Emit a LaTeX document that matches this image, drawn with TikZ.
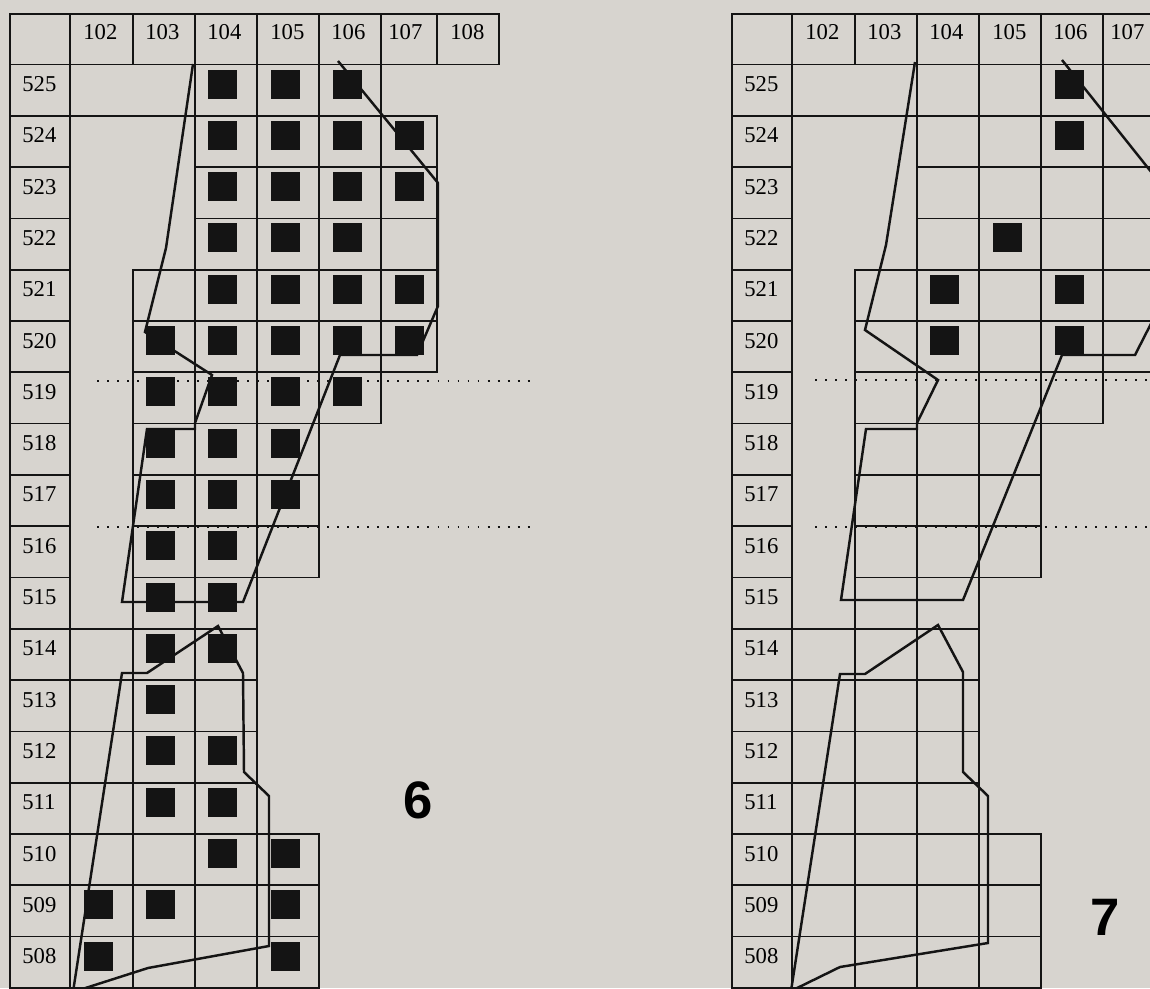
\documentclass[tikz,border=0pt]{standalone}
\usepackage{fontspec}
\setmainfont{Liberation Serif}
\newfontfamily\platefont{Liberation Sans}
\usepackage{tikz}
\definecolor{paper}{HTML}{D7D4CF}
\definecolor{ink}{HTML}{141414}
\tikzset{
  cellbox/.style={draw=ink,line width=1pt},
  blk/.style={fill=ink},
  trace/.style={draw=ink,line width=1.4pt,line join=miter},
  dotln/.style={draw=ink,line width=1.1pt,dash pattern=on 1.1pt off 4.6pt},
  lbl/.style={anchor=base west,inner sep=0pt,font=\fontsize{12.9}{14}\selectfont},
  plate/.style={inner sep=0pt,font=\platefont\bfseries\fontsize{30}{32}\selectfont},
}
% one row of the grid: prefix, row number, cell edges
\newcommand{\gridrow}[3]{%
  \pgfmathsetmacro\rtop{64.5+51.3*(525-#2)}
  \draw[cellbox] (10,\rtop) rectangle (70,\rtop+51.3);
  \node[lbl] (#1r#2) at (22,\rtop+27) {#2};
  \foreach \xa/\xb in {#3} \draw[cellbox] (\xa,\rtop) rectangle (\xb,\rtop+51.3);
}
% whole grid of one panel: prefix, extra cells in row 525
\newcommand{\panelgrid}[2]{%
  \draw[cellbox] (10,14) rectangle (70,64.5);
  \foreach \xa/\xb/\xt/\t in {70/133/83/102,133/195/145/103,195/257/207/104,257/319/270/105,319/381/331/106,381/437/388/107,437/499/450/108}{
    \draw[cellbox] (\xa,14) rectangle (\xb,64.5);
    \node[lbl] (#1h\t) at (\xt,39.5) {\t};
  }
  \gridrow{#1}{525}{70/195,195/257,257/319,319/381#2}
  \gridrow{#1}{524}{195/257,257/319,319/381,381/437}
  \gridrow{#1}{523}{195/257,257/319,319/381,381/437}
  \gridrow{#1}{522}{195/257,257/319,319/381,381/437}
  \gridrow{#1}{521}{133/195,195/257,257/319,319/381,381/437}
  \gridrow{#1}{520}{133/195,195/257,257/319,319/381,381/437}
  \gridrow{#1}{519}{133/195,195/257,257/319,319/381}
  \gridrow{#1}{518}{133/195,195/257,257/319}
  \gridrow{#1}{517}{133/195,195/257,257/319}
  \gridrow{#1}{516}{133/195,195/257,257/319}
  \gridrow{#1}{515}{133/195,195/257}
  \gridrow{#1}{514}{70/133,133/195,195/257}
  \gridrow{#1}{513}{70/133,133/195,195/257}
  \gridrow{#1}{512}{70/133,133/195,195/257}
  \gridrow{#1}{511}{70/133,133/195,195/257}
  \gridrow{#1}{510}{70/133,133/195,195/257,257/319}
  \gridrow{#1}{509}{70/133,133/195,195/257,257/319}
  \gridrow{#1}{508}{70/133,133/195,195/257,257/319}
}
% filled square in column, row
\newcommand{\blkat}[2]{\fill[blk] ({84+62.2*(#1-102)},{69.5+51.3*(525-#2)}) rectangle ++(29,29);}

\begin{document}
\begin{tikzpicture}[x=0.02cm,y=-0.02cm]
  \fill[paper] (0,0) rectangle (1150,988);
  \useasboundingbox (0,0) rectangle (1150,988);
  \clip (0,0) rectangle (1150,988);

  % panel 6
  \panelgrid{a}{}
  \draw[trace] (193,64) -- (166,248) -- (145,332) -- (212,375) -- (195,423) -- (195,429) -- (147,429)
    -- (122,602) -- (243,602) -- (340,355) -- (417,355) -- (438,306) -- (438,183) -- (338,61);
  \draw[trace] (218,626) -- (243,673) -- (244,772) -- (269,796) -- (269,946) -- (148,968) -- (73,992)
    -- (122,673) -- (147,673) -- cycle;
  \draw[dotln] (97,381) -- (537,381);
  \draw[dotln] (97,527) -- (537,527);
  \foreach \c/\r in {104/525,105/525,106/525,104/524,105/524,106/524,107/524,104/523,105/523,106/523,107/523,
    104/522,105/522,106/522,104/521,105/521,106/521,107/521,103/520,104/520,105/520,106/520,107/520,
    103/519,104/519,105/519,106/519,103/518,104/518,105/518,103/517,104/517,105/517,103/516,104/516,
    103/515,104/515,103/514,104/514,103/513,103/512,104/512,103/511,104/511,104/510,105/510,
    102/509,103/509,105/509,102/508,105/508}
    \blkat{\c}{\r};
  \node[plate] (six) at (418,800) {6};

  % panel 7
  \begin{scope}[shift={(722,0)}]
    \panelgrid{b}{,381/437}
  \end{scope}
  \draw[trace] (915,62) -- (886,245) -- (865,330) -- (938,380) -- (917,423) -- (917,429) -- (866,429)
    -- (841,600) -- (963,600) -- (1062,355) -- (1135,355) -- (1160,306) -- (1160,183) -- (1062,60);
  \draw[trace] (938,625) -- (963,672) -- (963,772) -- (988,796) -- (988,943) -- (840,967) -- (791,991)
    -- (840,674) -- (865,674) -- cycle;
  \draw[dotln] (815,380) -- (1150,380);
  \draw[dotln] (815,527) -- (1150,527);
  \begin{scope}[shift={(722,0)}]
    \foreach \c/\r in {106/525,106/524,105/522,104/521,106/521,104/520,106/520}
      \blkat{\c}{\r};
  \end{scope}
  \node[plate] (seven) at (1105,917) {7};
\end{tikzpicture}
\end{document}
